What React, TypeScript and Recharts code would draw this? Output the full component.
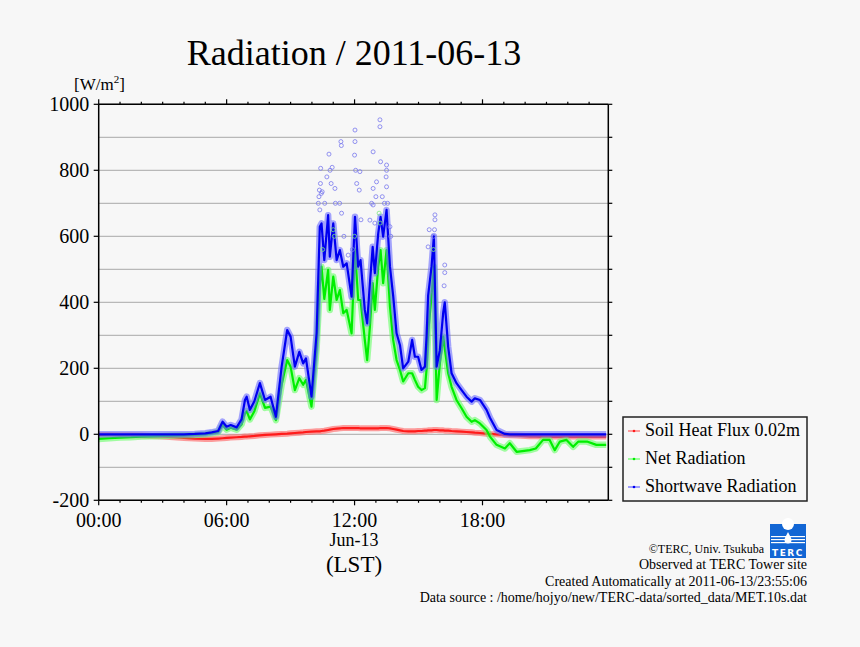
import React from 'react';
import { ComposedChart, Line, Scatter, XAxis, YAxis, CartesianGrid } from 'recharts';

// time of day in hours (LST)
const hours = [
  0, 0.5, 1, 1.5, 2, 2.5, 3, 3.5, 4, 4.5,
  5, 5.3, 5.6, 5.81, 6.0, 6.19, 6.47, 6.7, 6.86, 6.94,
  7.09, 7.3, 7.56, 7.8, 8.06, 8.31, 8.58, 8.84, 9.0, 9.2,
  9.41, 9.59, 9.72, 9.98, 10.22, 10.37, 10.45, 10.58, 10.76, 10.84,
  11.0, 11.16, 11.31, 11.47, 11.63, 11.86, 12.02, 12.17, 12.28, 12.48,
  12.59, 12.72, 12.85, 12.95, 13.11, 13.22, 13.34, 13.5, 13.66, 13.81,
  13.97, 14.13, 14.28, 14.52, 14.7, 14.83, 14.98, 15.14, 15.3, 15.38,
  15.45, 15.61, 15.72, 15.85, 16.0, 16.16, 16.23, 16.39, 16.55, 16.78,
  17.02, 17.25, 17.49, 17.64, 17.88, 18.19, 18.35, 18.66, 19.05, 19.28,
  19.6, 20.22, 20.5, 20.84, 21.15, 21.39, 21.63, 21.94, 22.25, 22.5,
  22.9, 23.34, 23.8,
];

const shortwave = [
  0, 0, 0, 0, 0, 0, 0, 0, 0, 1,
  3, 6, 10, 38, 23, 28, 21, 45, 104, 114,
  74, 100, 155, 104, 114, 53, 205, 316, 296, 205,
  250, 215, 230, 114, 307, 629, 639, 528, 664, 538,
  639, 528, 558, 508, 518, 417, 659, 508, 528, 377,
  336, 458, 568, 488, 609, 659, 599, 680, 508, 420,
  306, 270, 200, 220, 286, 235, 235, 195, 205, 300,
  420, 508, 600, 205, 255, 370, 400, 265, 185, 155,
  134, 114, 99, 109, 104, 74, 50, 13, 1, 0,
  0, 0, 0, 0, 0, 0, 0, 0, 0, 0,
  0, 0, 0,
];

const netRad = [
  -14, -12, -10, -9, -7, -6, -5, -4, -3, -2,
  0, 3, 6, 28, 14, 20, 14, 30, 64, 70,
  45, 70, 124, 80, 84, 43, 150, 225, 205, 134,
  170, 150, 165, 84, 260, 450, 508, 410, 498, 377,
  478, 407, 437, 367, 377, 306, 560, 407, 407, 286,
  225, 326, 458, 377, 508, 558, 458, 558, 387, 286,
  225, 195, 160, 185, 185, 165, 144, 134, 140, 200,
  306, 420, 508, 104, 215, 296, 260, 185, 144, 104,
  79, 53, 38, 43, 33, 13, -7, -32, -43, -27,
  -53, -48, -43, -17, -17, -48, -22, -17, -38, -22,
  -22, -32, -32,
];

const soilFlux = [
  -2, -2, -3, -3, -4, -5, -7, -9, -11, -13,
  -14, -14, -13, -12, -11, -10, -9, -8, -7, -7,
  -6, -5, -3, -2, -1, 0, 1, 2, 3, 4,
  5, 6, 7, 8, 9, 9, 10, 11, 13, 14,
  16, 17, 18, 19, 19, 19, 19, 19, 18, 18,
  18, 18, 18, 18, 18, 19, 19, 19, 18, 16,
  14, 12, 10, 9, 9, 9, 10, 10, 11, 11,
  12, 12, 13, 13, 12, 12, 11, 11, 10, 9,
  8, 7, 6, 5, 4, 2, 1, 0, -2, -3,
  -4, -6, -6, -7, -7, -7, -7, -7, -7, -7,
  -7, -7, -7,
];

// single 10 s samples standing out above the running curves
const rawSwHours = [
  10.3, 10.33, 10.35, 10.37, 10.4, 10.41, 10.44, 10.48, 10.6, 10.7,
  10.8, 10.85, 10.9, 10.95, 11.08, 11.1, 11.3, 11.36, 11.38, 11.39,
  11.5, 11.7, 11.9, 12.0, 12.02, 12.02, 12.05, 12.1, 12.22, 12.25,
  12.3, 12.72, 12.8, 12.87, 12.87, 12.87, 12.95, 13.0, 13.03, 13.19,
  13.19, 13.22, 13.3, 13.4, 13.48, 13.5, 13.5, 13.5, 13.55, 13.66,
  13.7, 15.45, 15.5, 15.7, 15.75, 15.77, 15.77, 16.2, 16.23, 16.23,
];
const rawSw = [
  700, 720, 740, 680, 760, 806, 730, 735, 700, 780,
  849, 800, 760, 809, 745, 700, 700, 887, 875, 670,
  600, 543, 560, 846, 922, 887, 800, 760, 740, 796,
  650, 649, 700, 856, 745, 695, 640, 720, 765, 953,
  932, 826, 720, 700, 780, 816, 800, 750, 700, 629,
  600, 568, 620, 600, 620, 665, 650, 450, 513, 490,
];
const rawNetHours = [10.5, 11.0, 11.05, 12.0, 13.15, 13.2, 15.7];
const rawNet = [560, 620, 600, 600, 670, 640, 560];

const hourTicks = [
  0, 1, 2, 3, 4, 5, 6, 7, 8, 9, 10, 11,
  12, 13, 14, 15, 16, 17, 18, 19, 20, 21, 22, 23,
];
const valueTicks = [-200, -100, 0, 100, 200, 300, 400, 500, 600, 700, 800, 900, 1000];
const hourLabels: Record<number, string> = { 0: '00:00', 6: '06:00', 12: '12:00', 18: '18:00' };

const seriesNames = ['Soil Heat Flux 0.02m', 'Net Radiation', 'Shortwave Radiation'];
const seriesColors = ['#ff1a1a', '#00ee00', '#0000f0'];
const haloColors = ['#ff6a6a', '#66ff66', '#6a6aff'];
const markerColors = ['#ff8080', '#80ff80', '#8080ff'];

const rows = hours.map((h, i) => ({ h, sw: shortwave[i], net: netRad[i], soil: soilFlux[i] }));
const rawSwRows = rawSwHours.map((h, i) => ({ h, v: rawSw[i] }));
const rawNetRows = rawNetHours.map((h, i) => ({ h, v: rawNet[i] }));

const SERIF = '"Liberation Serif", "Times New Roman", Times, serif';
const BG = '#f7f7f7';
const X_DOMAIN: [number, number] = [0, 23.9];
const Y_DOMAIN: [number, number] = [-200, 1000];

const BottomTick = (props: any) => {
  const { x, y, payload } = props;
  const label = hourLabels[payload.value];
  return (
    <g>
      <line x1={x} y1={y} x2={x} y2={y + (label ? 5 : 2.5)} stroke="#000" strokeWidth={1.2} />
      {label && (
        <text x={x} y={y + 26.5} textAnchor="middle" fontSize={20} fontFamily={SERIF} fill="#000">
          {label}
        </text>
      )}
    </g>
  );
};

const TopTick = (props: any) => {
  const { x, y, payload } = props;
  const major = payload.value % 6 === 0;
  return <line x1={x} y1={y} x2={x} y2={y - (major ? 5 : 2.5)} stroke="#000" strokeWidth={1.2} />;
};

const LeftTick = (props: any) => {
  const { x, y, payload } = props;
  if (payload.value % 200 !== 0) return <g />;
  return (
    <g>
      <line x1={x} y1={y} x2={x - 5} y2={y} stroke="#000" strokeWidth={1.2} />
      <text x={x - 9.5} y={y + 7} textAnchor="end" fontSize={20} fontFamily={SERIF} fill="#000">
        {payload.value}
      </text>
    </g>
  );
};

const RightTick = (props: any) => {
  const { x, y } = props;
  return <line x1={x} y1={y} x2={x + 4} y2={y} stroke="#000" strokeWidth={1.2} />;
};

const RawDot = (color: string) => (p: any) =>
  <circle cx={p.cx} cy={p.cy} r={2} fill="none" stroke={color} strokeWidth={0.8} />;

const Overlay = () => (
  <svg width={860} height={647} style={{ position: 'absolute', left: 0, top: 0, pointerEvents: 'none' }}>
    <g fontFamily={SERIF} fill="#000">
      <text x={354} y={65} fontSize={36} textAnchor="middle">Radiation / 2011-06-13</text>
      <text x={74} y={90} fontSize={17}>
        [W/m<tspan fontSize={11} dy={-7}>2</tspan><tspan dy={7}>]</tspan>
      </text>
      <text x={354} y={546} fontSize={18} textAnchor="middle">Jun-13</text>
      <text x={354} y={572} fontSize={23} textAnchor="middle">(LST)</text>
      <text x={764} y={553} fontSize={12} textAnchor="end">©TERC, Univ. Tsukuba</text>
      <text x={807} y={569} fontSize={14} textAnchor="end">Observed at TERC Tower site</text>
      <text x={807} y={586} fontSize={14} textAnchor="end">Created Automatically at 2011-06-13/23:55:06</text>
      <text x={807} y={602} fontSize={14} textAnchor="end">Data source : /home/hojyo/new/TERC-data/sorted_data/MET.10s.dat</text>
    </g>

    {/* legend */}
    <rect x={623} y={417} width={184} height={84} fill={BG} stroke="#222" strokeWidth={1.5} />
    {seriesNames.map((name, i) => {
      const base = 436 + i * 28;
      return (
        <g key={name}>
          <line x1={628} x2={640} y1={base - 5} y2={base - 5} stroke={markerColors[i]} strokeWidth={1.5} />
          <circle cx={634} cy={base - 5} r={1.3} fill={seriesColors[i]} />
          <text x={645} y={base} fontSize={18} fontFamily={SERIF} fill="#000">{name}</text>
        </g>
      );
    })}

    {/* TERC logo */}
    <g>
      <rect x={770} y={524} width={36} height={34} fill="#1266d4" />
      <circle cx={788} cy={524} r={6} fill="#fff" />
      <rect x={771} y={536} width={34} height={1.2} fill="#fff" />
      <rect x={771} y={539} width={34} height={1.2} fill="#fff" />
      <rect x={771} y={542} width={34} height={1.2} fill="#fff" />
      <path d="M788 532 C786 536 784.5 538 784.5 540 A3.5 3.5 0 0 0 791.5 540 C791.5 538 790 536 788 532 Z" fill="#fff" />
      <text x={788} y={556} fontSize={9} fontWeight="bold" textAnchor="middle" fill="#fff" fontFamily="DejaVu Sans, sans-serif" letterSpacing={1.5}>
        TERC
      </text>
    </g>
  </svg>
);

export default function App() {
  return (
    <div style={{ position: 'absolute', left: 0, top: 0, width: 860, height: 647, background: BG, overflow: 'hidden' }}>
      <ComposedChart
        width={860}
        height={647}
        data={rows}
        margin={{ top: 74.3, right: 221.7, bottom: 116.7, left: 38.7 }}
      >
        <XAxis
          xAxisId="b"
          dataKey="h"
          type="number"
          domain={X_DOMAIN}
          allowDataOverflow
          ticks={hourTicks}
          interval={0}
          height={30}
          tickSize={0}
          tickMargin={0}
          tickLine={false}
          axisLine={{ stroke: '#000', strokeWidth: 1.5 }}
          tick={<BottomTick />}
        />
        <XAxis
          xAxisId="t"
          orientation="top"
          dataKey="h"
          type="number"
          domain={X_DOMAIN}
          allowDataOverflow
          ticks={hourTicks}
          interval={0}
          height={30}
          tickSize={0}
          tickMargin={0}
          tickLine={false}
          axisLine={{ stroke: '#000', strokeWidth: 1.5 }}
          tick={<TopTick />}
        />
        <YAxis
          yAxisId="l"
          type="number"
          domain={Y_DOMAIN}
          allowDataOverflow
          ticks={valueTicks}
          interval={0}
          width={60}
          tickSize={0}
          tickMargin={0}
          tickLine={false}
          axisLine={{ stroke: '#000', strokeWidth: 1.5 }}
          tick={<LeftTick />}
        />
        <YAxis
          yAxisId="r"
          orientation="right"
          type="number"
          domain={Y_DOMAIN}
          allowDataOverflow
          ticks={valueTicks}
          interval={0}
          width={30}
          tickSize={0}
          tickMargin={0}
          tickLine={false}
          axisLine={{ stroke: '#000', strokeWidth: 1.5 }}
          tick={<RightTick />}
        />
        <CartesianGrid xAxisId="b" yAxisId="l" vertical={false} stroke="#a8a8a8" strokeWidth={1} />

        <Line xAxisId="t" yAxisId="r" dataKey="soil" stroke={haloColors[0]} strokeWidth={6} strokeOpacity={0.65} dot={false} isAnimationActive={false} strokeLinejoin="round" />
        <Line xAxisId="b" yAxisId="l" dataKey="soil" stroke={seriesColors[0]} strokeWidth={2.2} dot={false} isAnimationActive={false} strokeLinejoin="round" />
        <Line xAxisId="t" yAxisId="r" dataKey="net" stroke={haloColors[1]} strokeWidth={6.5} strokeOpacity={0.6} dot={false} isAnimationActive={false} strokeLinejoin="round" />
        <Line xAxisId="b" yAxisId="l" dataKey="net" stroke={seriesColors[1]} strokeWidth={2.2} dot={false} isAnimationActive={false} strokeLinejoin="round" />
        <Line xAxisId="t" yAxisId="r" dataKey="sw" stroke={haloColors[2]} strokeWidth={6.5} strokeOpacity={0.6} dot={false} isAnimationActive={false} strokeLinejoin="round" />
        <Line xAxisId="b" yAxisId="l" dataKey="sw" stroke={seriesColors[2]} strokeWidth={2.2} dot={false} isAnimationActive={false} strokeLinejoin="round" />

        <Scatter xAxisId="b" yAxisId="l" data={rawNetRows} dataKey="v" shape={RawDot('#7ee87e')} isAnimationActive={false} />
        <Scatter xAxisId="b" yAxisId="l" data={rawSwRows} dataKey="v" shape={RawDot('#7878ee')} isAnimationActive={false} />
      </ComposedChart>
      <Overlay />
    </div>
  );
}
